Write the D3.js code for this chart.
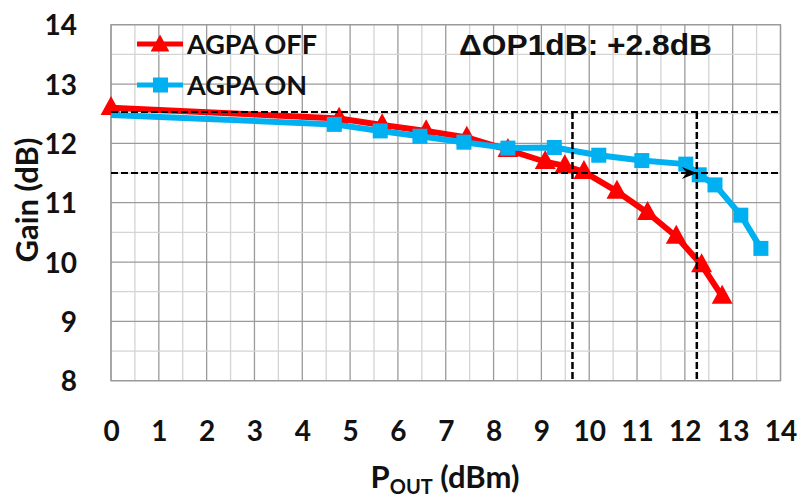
<!DOCTYPE html>
<html>
<head>
<meta charset="utf-8">
<script src="https://cdn.jsdelivr.net/npm/d3@7"></script>
<style>
  html, body { margin: 0; padding: 0; background: #fff; }
  svg { display: block; }
</style>
</head>
<body>
<svg id="chart" width="801" height="498"></svg>
<script>
// Gain vs. output power, AGPA off / on
const offPout = [0, 4.77, 5.67, 6.59, 7.44, 8.3, 9.08, 9.49, 9.89, 10.58, 11.22, 11.82, 12.35, 12.78];
const offGain = [12.6, 12.42, 12.31, 12.21, 12.1, 11.89, 11.69, 11.62, 11.52, 11.19, 10.83, 10.43, 9.95, 9.42];
const onPout = [0, 4.67, 5.63, 6.46, 7.38, 8.3, 9.27, 10.2, 11.1, 12.02, 12.3, 12.63, 13.17, 13.59];
const onGain = [12.48, 12.32, 12.21, 12.12, 12.02, 11.92, 11.93, 11.8, 11.71, 11.65, 11.47, 11.3, 10.79, 10.23];
const xTicks = [0, 1, 2, 3, 4, 5, 6, 7, 8, 9, 10, 11, 12, 13, 14];
const yTicks = [8, 9, 10, 11, 12, 13, 14];
const seriesNames = ["AGPA OFF", "AGPA ON"];
// compression reference: small-signal gain, 1 dB down, and the two OP1dB points
const refGain = [12.53, 11.5];
const op1dB = [9.65, 12.25];
const deltaLabel = "ΔOP1dB: +2.8dB";

const svg = d3.select("#chart");
const margin = { left: 111, right: 20.5, top: 24.7, bottom: 117.3 };
const W = 801, H = 498;
const x = d3.scaleLinear().domain([0, 14]).range([margin.left, W - margin.right]);
const y = d3.scaleLinear().domain([8, 14]).range([H - margin.bottom, margin.top]);

const RED = "#ff0000", BLUE = "#00b0f0";
const tickFont = "Lato, 'Open Sans', sans-serif";

// grid: light lines every 0.5, darker lines on integers
const g = svg.append("g");
const halfX = d3.range(0, 14.01, 0.5), halfY = d3.range(8, 14.01, 0.5);
g.selectAll("line.vx").data(halfX).join("line")
  .attr("x1", d => x(d)).attr("x2", d => x(d))
  .attr("y1", y(8)).attr("y2", y(14))
  .attr("stroke", d => Number.isInteger(d) ? "#9a9a9a" : "#d4d4d4")
  .attr("stroke-width", 1.3);
g.selectAll("line.hy").data(halfY).join("line")
  .attr("y1", d => y(d)).attr("y2", d => y(d))
  .attr("x1", x(0)).attr("x2", x(14))
  .attr("stroke", d => Number.isInteger(d) ? "#9a9a9a" : "#d4d4d4")
  .attr("stroke-width", 1.3);
g.append("rect")
  .attr("x", x(0)).attr("y", y(14))
  .attr("width", x(14) - x(0)).attr("height", y(8) - y(14))
  .attr("fill", "none").attr("stroke", "#9a9a9a").attr("stroke-width", 1.3);

// axes (labels only)
const xAxis = d3.axisBottom(x).tickValues(xTicks).tickSize(0).tickPadding(0).tickFormat(d3.format("d"));
const gx = svg.append("g").attr("transform", `translate(0,${y(8) + 60})`).call(xAxis);
const yAxis = d3.axisLeft(y).tickValues(yTicks).tickSize(0).tickPadding(0).tickFormat(d3.format("d"));
const gy = svg.append("g").attr("transform", `translate(${margin.left - 34},0)`).call(yAxis);
[gx, gy].forEach(a => {
  a.select(".domain").remove();
  a.selectAll("text")
    .attr("font-family", tickFont).attr("font-weight", "bold")
    .attr("font-size", 28).attr("fill", "#111");
});
gy.selectAll("text").attr("dy", "0.36em");
gx.selectAll("text").attr("dy", 0);

// axis titles
svg.append("text")
  .attr("transform", `translate(38,${200}) rotate(-90)`)
  .attr("text-anchor", "middle")
  .attr("font-family", tickFont).attr("font-weight", "bold")
  .attr("font-size", 31).attr("fill", "#111")
  .text("Gain (dB)");
const xt = svg.append("text")
  .attr("x", 445).attr("y", 488)
  .attr("text-anchor", "middle")
  .attr("font-family", tickFont).attr("font-weight", "bold")
  .attr("font-size", 31).attr("fill", "#111");
xt.append("tspan").text("P");
xt.append("tspan").attr("font-size", 20).attr("dy", 6).text("OUT");
xt.append("tspan").attr("dy", -6).text(" (dBm)");

// series
const line = d3.line().x(d => x(d[0])).y(d => y(d[1]));
const offPts = offPout.map((v, i) => [v, offGain[i]]);
const onPts = onPout.map((v, i) => [v, onGain[i]]);
const tri = s => `M0,${-s * 0.62}L${s * 0.55},${s * 0.38}L${-s * 0.55},${s * 0.38}Z`;

svg.append("path").datum(offPts).attr("d", line)
  .attr("fill", "none").attr("stroke", RED).attr("stroke-width", 6).attr("stroke-linejoin", "round");
svg.selectAll("path.tri").data(offPts).join("path")
  .attr("class", "tri")
  .attr("transform", d => `translate(${x(d[0])},${y(d[1])})`)
  .attr("d", tri(19)).attr("fill", RED);

svg.append("path").datum(onPts).attr("d", line)
  .attr("fill", "none").attr("stroke", BLUE).attr("stroke-width", 6).attr("stroke-linejoin", "round");
svg.selectAll("rect.sq").data(onPts.slice(1)).join("rect")
  .attr("class", "sq")
  .attr("x", d => x(d[0]) - 7.5).attr("y", d => y(d[1]) - 7.5)
  .attr("width", 15).attr("height", 15).attr("fill", BLUE);

// compression reference lines
const dash = svg.append("g").attr("stroke", "#000").attr("fill", "none");
refGain.forEach(v => {
  dash.append("line")
    .attr("x1", x(0)).attr("x2", x(14)).attr("y1", y(v)).attr("y2", y(v))
    .attr("stroke-width", 2).attr("stroke-dasharray", "7,3");
});
op1dB.forEach(v => {
  dash.append("line")
    .attr("x1", x(v)).attr("x2", x(v)).attr("y1", y(refGain[0])).attr("y2", y(8))
    .attr("stroke-width", 2.5).attr("stroke-dasharray", "7,3");
});
// arrowhead at the AGPA-on compression point
const ax = x(op1dB[1]), ay = y(refGain[1]);
svg.append("path")
  .attr("d", `M${ax},${ay}L${ax - 15},${ay - 6}L${ax - 10},${ay}L${ax - 15},${ay + 6}Z`)
  .attr("fill", "#000");

// legend
const legend = svg.append("g");
const legY = [44, 85];
legend.append("line").attr("x1", 137).attr("x2", 183).attr("y1", legY[0]).attr("y2", legY[0])
  .attr("stroke", RED).attr("stroke-width", 5);
legend.append("path").attr("transform", `translate(160,${legY[0] + 1})`).attr("d", tri(17)).attr("fill", RED);
legend.append("line").attr("x1", 137).attr("x2", 183).attr("y1", legY[1]).attr("y2", legY[1])
  .attr("stroke", BLUE).attr("stroke-width", 5);
legend.append("rect").attr("x", 153).attr("y", legY[1] - 7.5).attr("width", 15).attr("height", 15).attr("fill", BLUE);
seriesNames.forEach((n, i) => {
  legend.append("text").attr("x", 187).attr("y", legY[i] + 10)
    .attr("font-family", tickFont).attr("font-weight", "bold")
    .attr("font-size", 27).attr("fill", "#111").text(n);
});

svg.append("text").attr("x", 459).attr("y", 55)
  .attr("font-family", "'Liberation Sans', Arial, sans-serif").attr("font-weight", "bold")
  .attr("font-size", 30).attr("textLength", 253).attr("lengthAdjust", "spacingAndGlyphs")
  .attr("fill", "#111").text(deltaLabel);
</script>
</body>
</html>
